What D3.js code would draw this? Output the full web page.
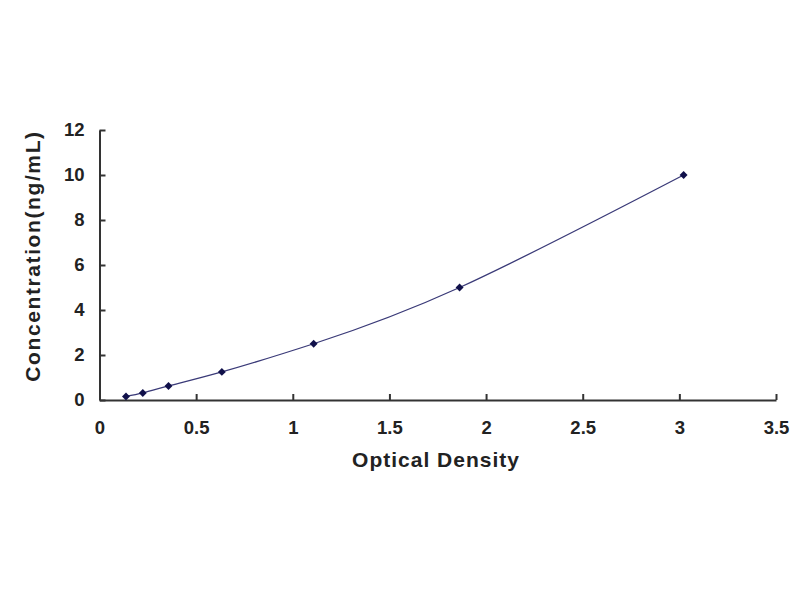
<!DOCTYPE html>
<html><head><meta charset="utf-8">
<script src="https://cdn.jsdelivr.net/npm/d3@7"></script>
<style>body{margin:0;background:#fff}</style>
</head><body>
<svg id="c" width="800" height="600"></svg>
<script>
const od = [0.137, 0.224, 0.357, 0.633, 1.108, 1.863, 3.022];
const conc = [0.156, 0.312, 0.625, 1.25, 2.5, 5, 10];
const xTicks = [0, 0.5, 1, 1.5, 2, 2.5, 3, 3.5];
const yTicks = [0, 2, 4, 6, 8, 10, 12];

const svg = d3.select("#c");
const x = d3.scaleLinear().domain([0, 3.5]).range([99.5, 776]);
const y = d3.scaleLinear().domain([0, 12]).range([400, 130]);
const font = "Arial, 'Liberation Sans', sans-serif";

const xa = svg.append("g").attr("transform", "translate(0,400)")
  .call(d3.axisBottom(x).tickValues(xTicks).tickSize(-6).tickSizeOuter(0).tickPadding(21).tickFormat(d3.format("")));
const ya = svg.append("g").attr("transform", "translate(99.5,0)")
  .call(d3.axisLeft(y).tickValues(yTicks).tickSize(-6).tickSizeOuter(0).tickPadding(15).tickFormat(d3.format("")));
[xa, ya].forEach(a => {
  a.select(".domain").attr("stroke", "#333").attr("stroke-width", 2);
  a.selectAll(".tick line").attr("stroke", "#333").attr("stroke-width", 2);
  a.selectAll(".tick text").attr("font-family", font).attr("font-size", 18.5)
    .attr("font-weight", "bold").attr("fill", "#222");
});

const pts = od.map((v, i) => [v, conc[i]]);
svg.append("path").datum(pts)
  .attr("d", d3.line().x(d => x(d[0])).y(d => y(d[1])).curve(d3.curveNatural))
  .attr("fill", "none").attr("stroke", "#3a3a78").attr("stroke-width", 1.3);

svg.append("g").selectAll("path").data(pts).join("path")
  .attr("d", d3.symbol(d3.symbolDiamond2, 40))
  .attr("transform", d => `translate(${x(d[0])},${y(d[1])})`)
  .attr("fill", "#10104a");

svg.append("text").attr("x", 436).attr("y", 467).attr("text-anchor", "middle")
  .attr("font-family", font).attr("font-size", 21).attr("font-weight", "bold").attr("fill", "#222")
  .attr("letter-spacing", 1)
  .text("Optical Density");
svg.append("text").attr("transform", "translate(40,256) rotate(-90)").attr("text-anchor", "middle")
  .attr("font-family", font).attr("font-size", 21).attr("font-weight", "bold").attr("fill", "#222")
  .attr("letter-spacing", 1.6)
  .text("Concentration(ng/mL)");
</script>
</body></html>
